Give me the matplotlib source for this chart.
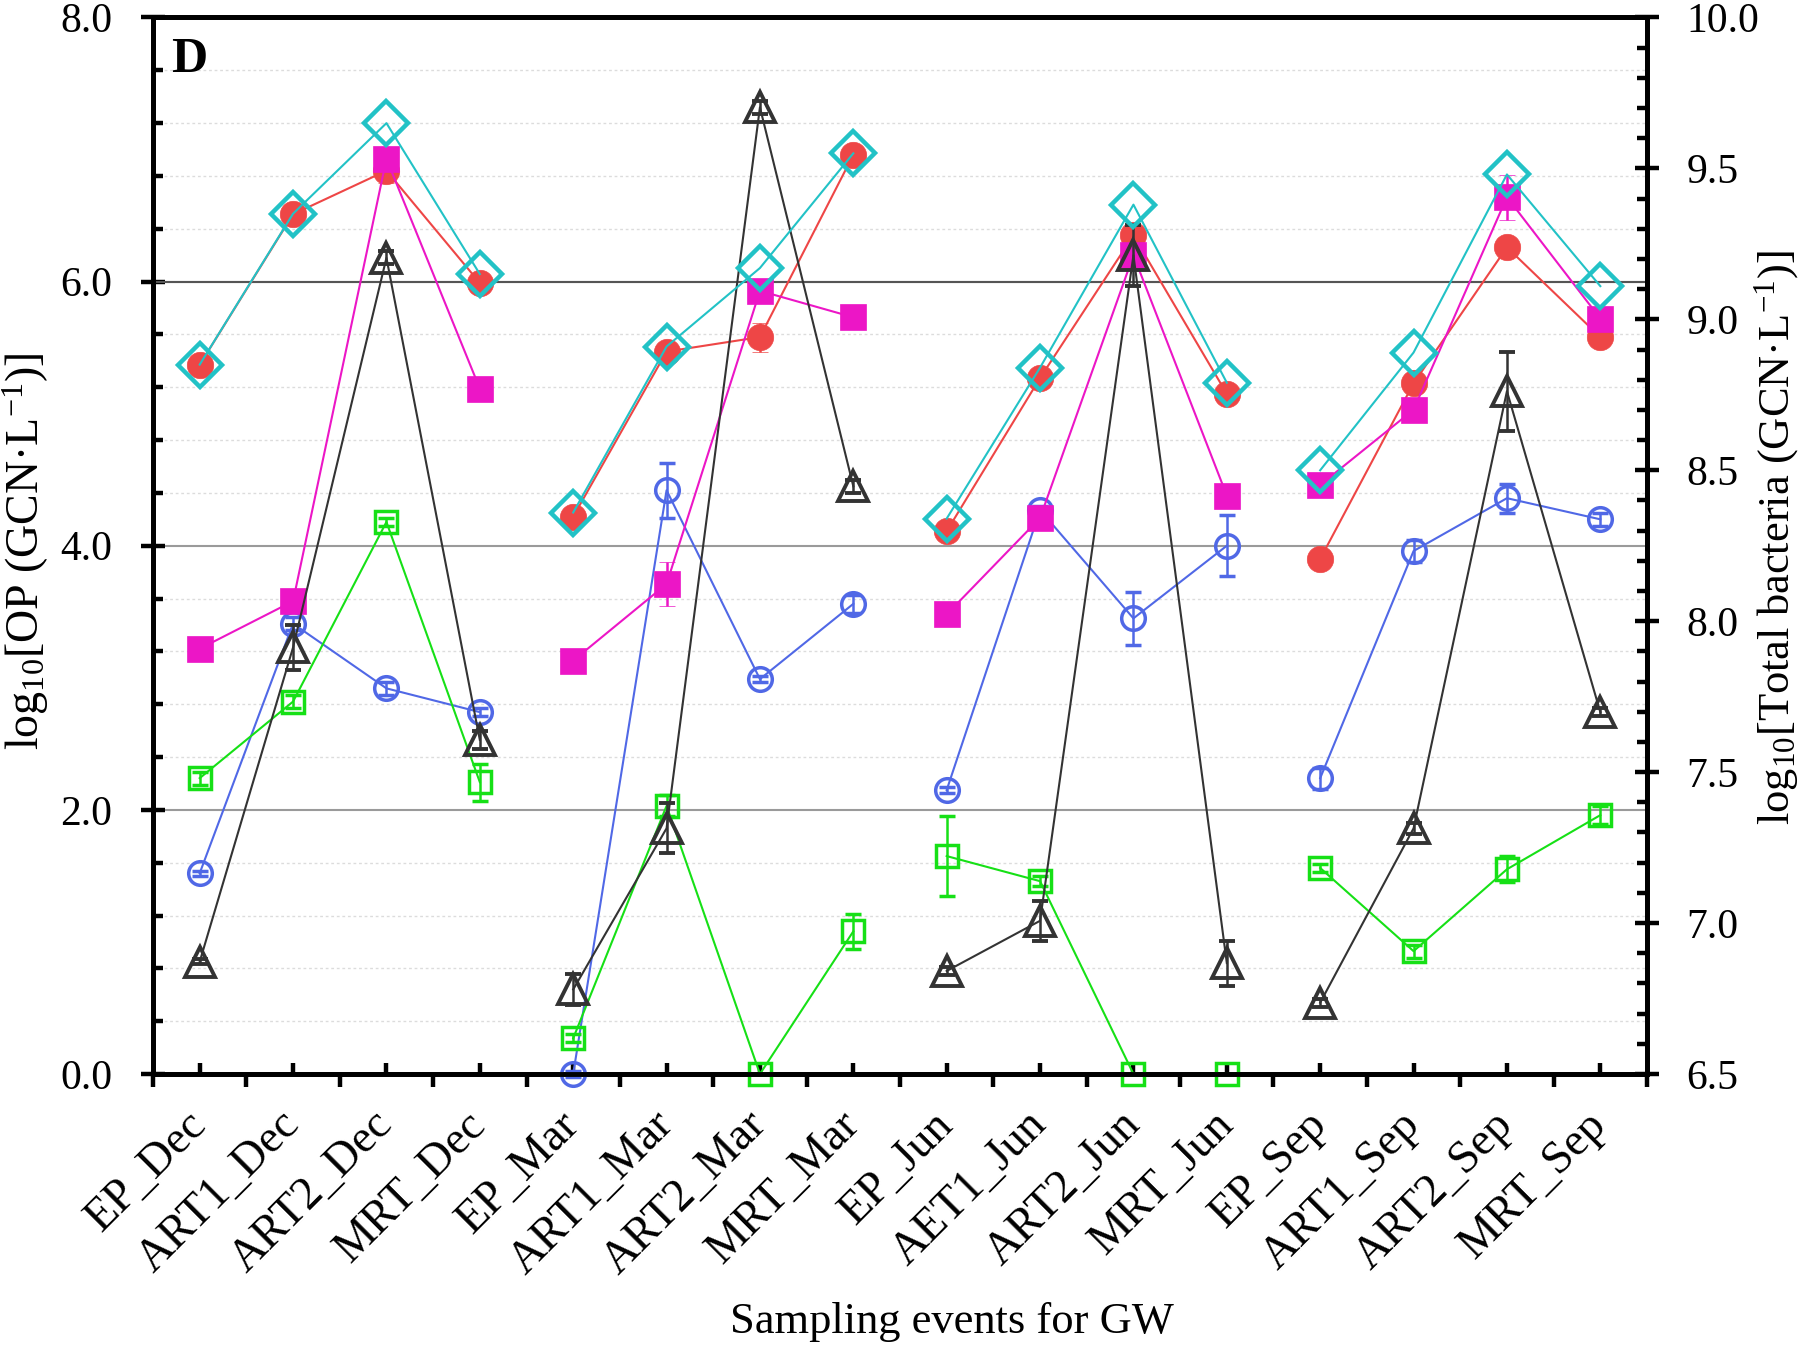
import numpy as np
import matplotlib
matplotlib.use('Agg')
import matplotlib.pyplot as plt
from matplotlib.ticker import MultipleLocator, FormatStrFormatter

plt.rcParams['font.family'] = 'Liberation Serif'
plt.rcParams['mathtext.fontset'] = 'custom'
plt.rcParams['mathtext.rm'] = 'Liberation Serif'
plt.rcParams['mathtext.it'] = 'Liberation Serif:italic'
plt.rcParams['mathtext.bf'] = 'Liberation Serif:bold'
plt.rcParams['mathtext.default'] = 'regular'

# sampling events (four sites per season)
events = ['EP_Dec', 'ART1_Dec', 'ART2_Dec', 'MRT_Dec',
          'EP_Mar', 'ART1_Mar', 'ART2_Mar', 'MRT_Mar',
          'EP_Jun', 'AET1_Jun', 'ART2_Jun', 'MRT_Jun',
          'EP_Sep', 'ART1_Sep', 'ART2_Sep', 'MRT_Sep']

# left axis series: log10 OP (GCN/L)
blue_vals = [1.52, 3.41, 2.92, 2.74, 0.00, 4.42, 2.99, 3.56, 2.15, 4.27, 3.45, 4.00, 2.24, 3.96, 4.36, 4.20]
blue_err = [0.02, 0.05, 0.05, 0.03, 0.02, 0.21, 0.02, 0.07, 0.02, 0.03, 0.20, 0.23, 0.08, 0.08, 0.11, 0.05]

green_vals = [2.24, 2.82, 4.18, 2.21, 0.27, 2.03, 0.00, 1.08, 1.65, 1.46, 0.00, 0.00, 1.56, 0.93, 1.55, 1.96]
green_err = [0.05, 0.05, 0.03, 0.14, 0.03, 0.08, 0.00, 0.13, 0.30, 0.04, 0.00, 0.00, 0.03, 0.05, 0.10, 0.07]

red_vals = [5.37, 6.51, 6.84, 5.99, 4.22, 5.47, 5.58, 6.96, 4.11, 5.27, 6.35, 5.15, 3.90, 5.23, 6.26, 5.58]
red_err = [0.03, 0.04, 0.09, 0.05, 0.03, 0.04, 0.11, 0.03, 0.03, 0.05, 0.05, 0.05, 0.02, 0.04, 0.03, 0.05]

magenta_vals = [3.22, 3.58, 6.93, 5.19, 3.13, 3.71, 5.93, 5.73, 3.48, 4.21, 6.20, 4.38, 4.46, 5.03, 6.64, 5.72]
magenta_err = [0.03, 0.04, 0.05, 0.03, 0.03, 0.17, 0.05, 0.03, 0.03, 0.05, 0.05, 0.04, 0.03, 0.04, 0.17, 0.04]

black_vals = [0.85, 3.23, 6.18, 2.53, 0.64, 1.86, 7.32, 4.45, 0.78, 1.16, 6.20, 0.84, 0.54, 1.86, 5.17, 2.74]
black_err = [0.02, 0.17, 0.05, 0.07, 0.12, 0.19, 0.05, 0.05, 0.03, 0.15, 0.23, 0.17, 0.03, 0.04, 0.30, 0.03]

# right axis series: log10 total bacteria (GCN/L)
cyan_vals = [8.85, 9.35, 9.65, 9.15, 8.36, 8.91, 9.17, 9.55, 8.34, 8.84, 9.38, 8.79, 8.50, 8.89, 9.48, 9.11]

fig = plt.figure(figsize=(18, 13.45), dpi=100)
ax = fig.add_axes([0.085, 0.2015, 0.83, 0.7855])
ax2 = ax.twinx()

x = np.arange(len(events))


def draw(axis, vals, err, color, marker, ms, filled, mew, z):
    vals = np.asarray(vals)
    for g in range(4):
        s = slice(4 * g, 4 * g + 4)
        yerr = None if err is None else np.asarray(err)[s]
        axis.errorbar(x[s], vals[s], yerr=yerr, color=color, lw=1.5,
                      marker=marker, ms=ms, mfc=color if filled else 'none',
                      mec=color, mew=mew, ecolor=color, elinewidth=1.8,
                      capsize=6, capthick=2.2, zorder=z, clip_on=False)


draw(ax, blue_vals, blue_err, '#5068E6', 'o', 17, False, 2.5, 3)
draw(ax, green_vals, green_err, '#16E016', 's', 16, False, 2.5, 4)
draw(ax, red_vals, red_err, '#EE4646', 'o', 19, True, 0.5, 5)
draw(ax, magenta_vals, magenta_err, '#EC16C6', 's', 19, True, 0.5, 6)
draw(ax, black_vals, black_err, '#333333', '^', 21, False, 2.8, 7)
draw(ax2, cyan_vals, None, '#22C2C6', 'D', 22, False, 3.2, 8)

# left axis
ax.set_xlim(-0.5, 15.5)
ax.set_ylim(0, 8)
ax.yaxis.set_major_locator(MultipleLocator(2))
ax.yaxis.set_minor_locator(MultipleLocator(0.4))
ax.yaxis.set_major_formatter(FormatStrFormatter('%.1f'))
ax.set_axisbelow(True)
ax.yaxis.grid(True, which='major', color='#9a9a9a', lw=1.5)
ax.yaxis.grid(True, which='minor', color='#dcdcdc', lw=1.0, ls=(0, (2, 2)))
ax.axhline(6.0, color='#555555', lw=1.5, zorder=1)

ax.set_xticks(x)
ax.set_xticks(np.arange(-0.5, 16, 1), minor=True)
ax.set_xticklabels(events, rotation=45, ha='right', va='center',
                   rotation_mode='anchor')

ax.tick_params(axis='y', which='major', direction='inout', length=17,
               width=3.2, pad=21, labelsize=30)
ax.tick_params(axis='y', which='minor', direction='in', length=7.5, width=3.2)
ax.tick_params(axis='x', which='major', direction='in', length=8, width=3.2,
               pad=32, labelsize=33, top=False)
ax.tick_params(axis='x', which='minor', direction='out', length=9.5,
               width=3.2, top=False)

# right axis
ax2.set_ylim(6.5, 10)
ax2.yaxis.set_major_locator(MultipleLocator(0.5))
ax2.yaxis.set_minor_locator(MultipleLocator(0.1))
ax2.yaxis.set_major_formatter(FormatStrFormatter('%.1f'))
ax2.tick_params(axis='y', which='major', direction='inout', length=17,
                width=3.2, pad=20, labelsize=30)
ax2.tick_params(axis='y', which='minor', direction='in', length=7.5, width=3.2)

for a in (ax, ax2):
    for sp in a.spines.values():
        sp.set_linewidth(3.5)

ax.text(0.012, 0.948, 'D', transform=ax.transAxes, fontsize=36,
        fontweight='bold', ha='left', va='baseline')

fig.text(0.0144, 0.590, r'log$_{10}$[OP (GCN·L$^{-1}$)]', rotation=90,
         ha='center', va='center', fontsize=33)
fig.text(0.987, 0.60, r'log$_{10}$[Total bacteria (GCN·L$^{-1}$)]',
         rotation=90, ha='center', va='center', fontsize=32)
fig.text(0.529, 0.017, 'Sampling events for GW', ha='center', va='center',
         fontsize=32)

fig.savefig('out.png', dpi=100)
